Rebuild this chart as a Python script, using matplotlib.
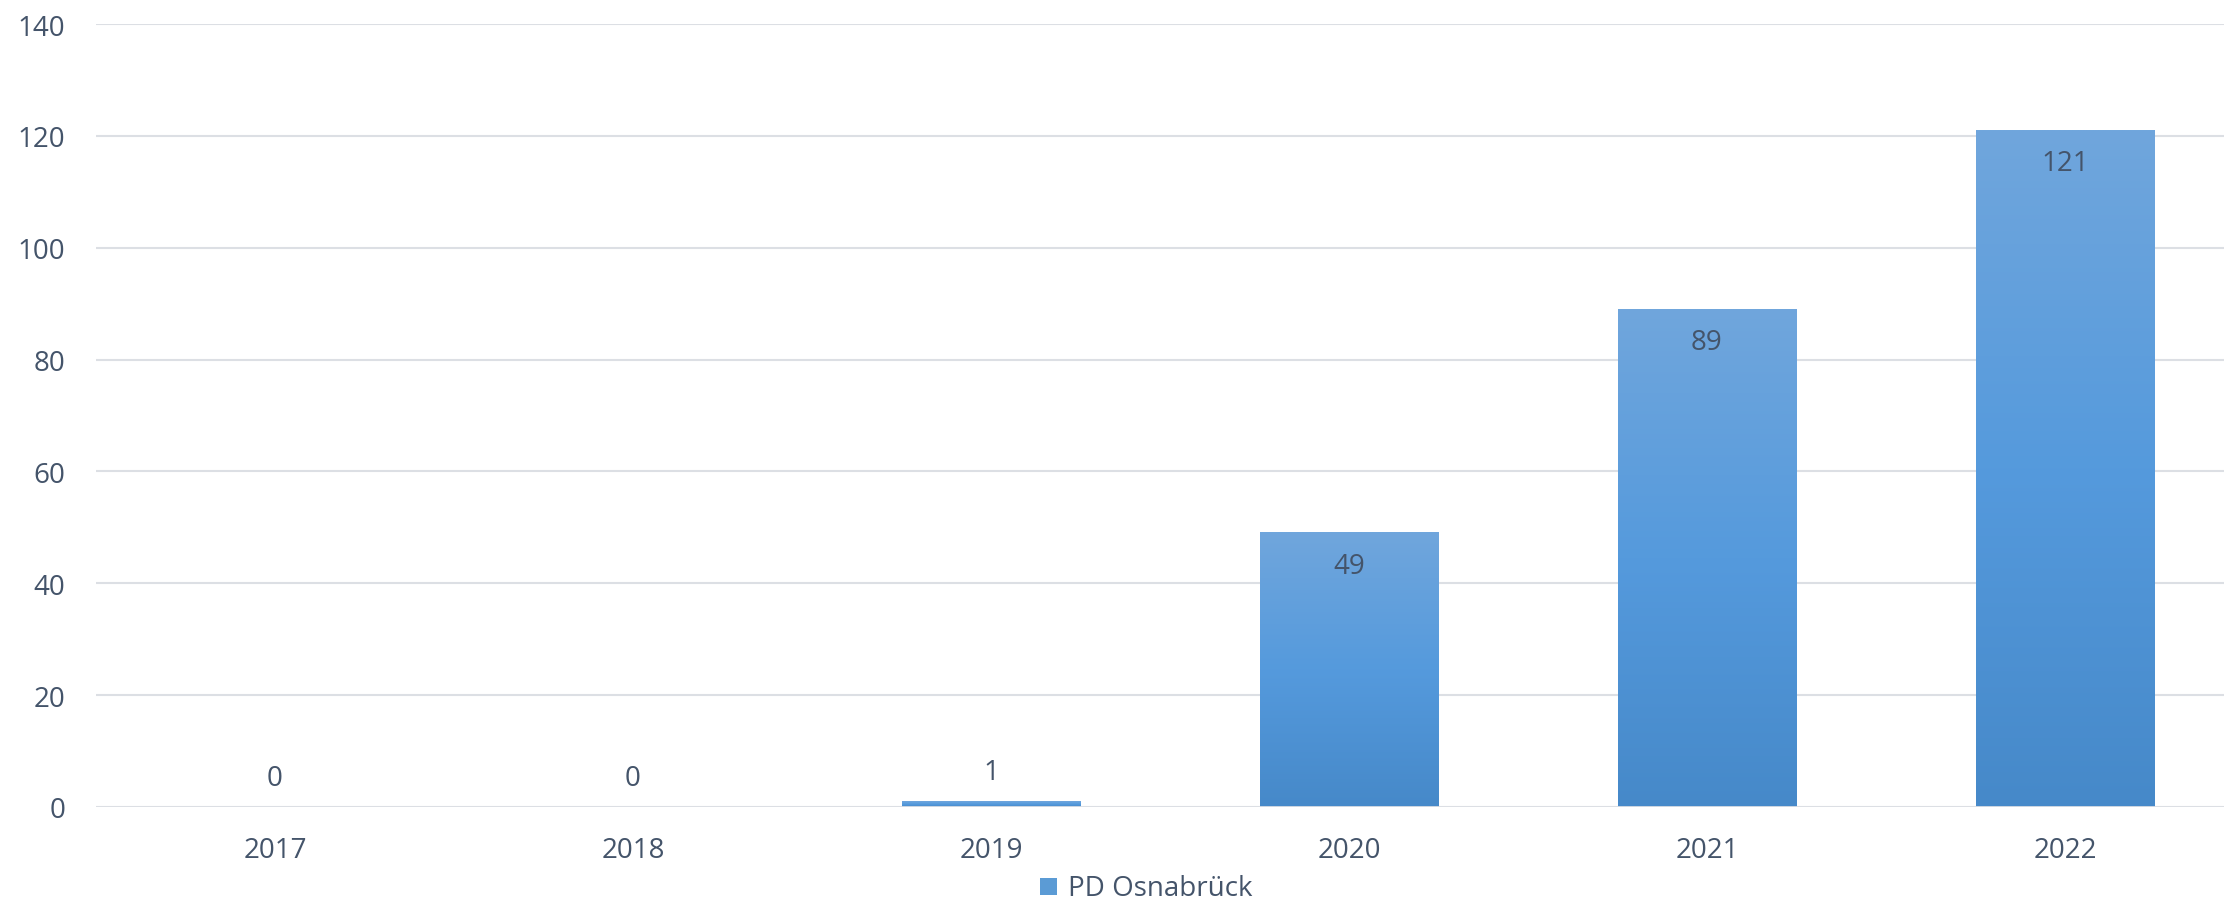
import numpy as np
import matplotlib.pyplot as plt
from matplotlib.colors import LinearSegmentedColormap

years = ['2017', '2018', '2019', '2020', '2021', '2022']
cases = [0, 0, 1, 49, 89, 121]
series_name = 'PD Osnabrück'

text_color = '#44546a'
grid_color = '#dcdfe4'
plt.rcParams['font.family'] = ['Open Sans', 'DejaVu Sans']

# excel style gradient: lighter top, darker bottom
bar_cmap = LinearSegmentedColormap.from_list('bar', ['#4689c9', '#559add', '#70a6dc'])


def draw_bars(ax, x, values, width):
    bars = ax.bar(x, values, width=width, color='none', edgecolor='none', zorder=2)
    grad = np.linspace(0, 1, 256).reshape(-1, 1)
    for b in bars:
        h = b.get_height()
        if h <= 0:
            continue
        x0 = b.get_x()
        ax.imshow(grad, cmap=bar_cmap, origin='lower', aspect='auto',
                  extent=[x0, x0 + b.get_width(), 0, h], zorder=2)
    return bars


def main():
    fig = plt.figure(figsize=(22.24, 9.04), dpi=100)
    ax = fig.add_axes([96 / 2224, 1 - 808 / 904, 2148 / 2224, (808 - 25) / 904])

    x = np.arange(len(years))
    draw_bars(ax, x, cases, 0.5)

    ax.set_xlim(-0.5, len(years) - 0.5)
    ax.set_ylim(0, 140)
    ax.set_yticks(range(0, 141, 20))
    ax.set_xticks(x)
    ax.set_xticklabels(years)

    ax.grid(axis='y', color=grid_color, linewidth=1.5, zorder=0)
    ax.set_axisbelow(True)
    for side in ['top', 'right', 'left', 'bottom']:
        ax.spines[side].set_visible(False)
    ax.axhline(0, color=grid_color, linewidth=2, zorder=3)
    ax.tick_params(axis='both', length=0, labelsize=20, labelcolor=text_color)
    ax.tick_params(axis='y', pad=22)
    ax.tick_params(axis='x', pad=21)

    for xi, v in zip(x, cases):
        if v > 10:
            ax.annotate(str(v), (xi, v), xytext=(0, -33), textcoords='offset pixels',
                        ha='center', va='center', fontsize=20, color=text_color, zorder=4)
        else:
            ax.annotate(str(v), (xi, v), xytext=(0, 29), textcoords='offset pixels',
                        ha='center', va='center', fontsize=20, color=text_color, zorder=4)

    # legend
    fig.patches.append(plt.Rectangle((1040 / 2224, 1 - 896 / 904), 17 / 2224, 17 / 904,
                                     transform=fig.transFigure, facecolor='#5b9bd5',
                                     edgecolor='none'))
    fig.text(1068 / 2224, 1 - 889 / 904, series_name, ha='left', va='center',
             fontsize=20, color=text_color)

    fig.savefig('out.png', dpi=100)


if __name__ == '__main__':
    main()
